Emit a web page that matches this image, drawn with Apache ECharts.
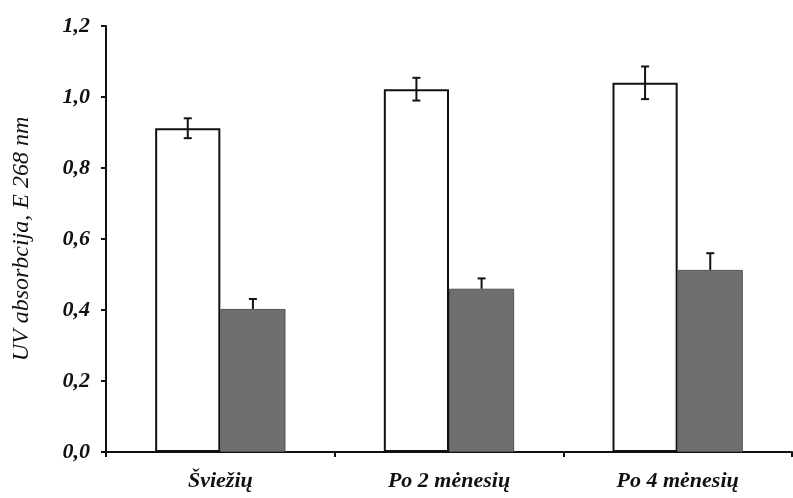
<!DOCTYPE html>
<html>
<head>
<meta charset="utf-8">
<script src="https://cdn.jsdelivr.net/npm/echarts@6/dist/echarts.min.js"></script>
<style>
html, body { margin: 0; padding: 0; background: #fff; }
#chart { width: 793px; height: 498px; }
</style>
</head>
<body>
<div id="chart"></div>
<script>
var categories = ['Šviežių', 'Po 2 mėnesių', 'Po 4 mėnesių'];
var whiteValues = [0.912, 1.022, 1.040];
var whiteErrors = [0.028, 0.032, 0.046];
var grayValues = [0.403, 0.460, 0.513];
var grayErrors = [0.028, 0.029, 0.047];

var serif = '"Liberation Serif", "DejaVu Serif", serif';
var myChart = echarts.init(document.getElementById('chart'));

// error bar drawn on top of a grouped bar; side = -1 left bar, +1 right bar
function errorSeries(values, errors, side, upperOnly) {
    return {
        type: 'custom',
        z: 10,
        data: values.map(function (v, i) { return [i, v, errors[i]]; }),
        renderItem: function (params, api) {
            var band = api.size([1, 0])[0];
            var barW = band * 0.57 / 2;
            var center = api.coord([api.value(0), 0]);
            var x = center[0] + side * barW / 2;
            var top = api.coord([api.value(0), api.value(1) + api.value(2)])[1];
            var mid = api.coord([api.value(0), api.value(1)])[1];
            var bot = api.coord([api.value(0), api.value(1) - api.value(2)])[1];
            var cap = 4;
            var style = { stroke: '#111', lineWidth: 2 };
            var children = [
                { type: 'line', shape: { x1: x, y1: top, x2: x, y2: upperOnly ? mid : bot }, style: style },
                { type: 'line', shape: { x1: x - cap, y1: top, x2: x + cap, y2: top }, style: style }
            ];
            if (!upperOnly) {
                children.push({ type: 'line', shape: { x1: x - cap, y1: bot, x2: x + cap, y2: bot }, style: style });
            }
            return { type: 'group', children: children };
        }
    };
}

option = {
    backgroundColor: '#fff',
    animation: false,
    grid: { left: 106, right: 1, top: 26, bottom: 46 },
    xAxis: {
        type: 'category',
        data: categories,
        axisLine: { lineStyle: { color: '#111', width: 2 } },
        axisTick: { show: true, length: 5, lineStyle: { color: '#111', width: 2 } },
        axisLabel: {
            margin: 18,
            color: '#111',
            fontFamily: serif,
            fontStyle: 'italic',
            fontWeight: 'bold',
            fontSize: 22
        }
    },
    yAxis: {
        type: 'value',
        min: 0,
        max: 1.2,
        interval: 0.2,
        name: 'UV absorbcija, E 268 nm',
        nameLocation: 'middle',
        nameGap: 72,
        nameTextStyle: {
            color: '#111',
            fontFamily: serif,
            fontStyle: 'italic',
            fontSize: 24
        },
        splitLine: { show: false },
        axisLine: { show: true, lineStyle: { color: '#111', width: 2 } },
        axisTick: { show: true, length: 5, lineStyle: { color: '#111', width: 2 } },
        axisLabel: {
            margin: 16,
            color: '#111',
            fontFamily: serif,
            fontStyle: 'italic',
            fontWeight: 'bold',
            fontSize: 22,
            formatter: function (v) { return v.toFixed(1).replace('.', ','); }
        }
    },
    series: [
        {
            type: 'bar',
            data: whiteValues,
            barGap: 0,
            barCategoryGap: '43%',
            itemStyle: { color: '#fff', borderColor: '#111', borderWidth: 2 }
        },
        {
            type: 'bar',
            data: grayValues,
            barGap: 0,
            barCategoryGap: '43%',
            itemStyle: { color: '#6f6f6f', borderColor: '#555', borderWidth: 1 }
        },
        errorSeries(whiteValues, whiteErrors, -1, false),
        errorSeries(grayValues, grayErrors, 1, true)
    ]
};

myChart.setOption(option);
</script>
</body>
</html>
